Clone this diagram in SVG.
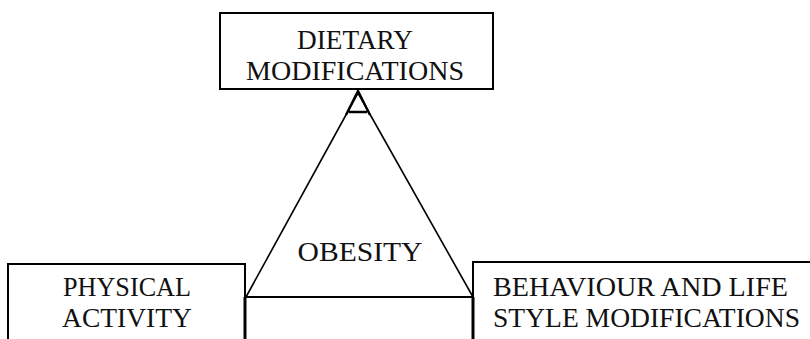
<svg xmlns="http://www.w3.org/2000/svg" width="810" height="339" viewBox="0 0 810 339">
<style>
.t{font-family:"Liberation Serif","Times New Roman",serif;font-size:28px;fill:#111;}
.b{fill:none;stroke:#000;stroke-width:2;}
.c{fill:none;stroke:#000;stroke-width:1.6;}
.k{fill:none;stroke:#000;stroke-width:3;}
</style>
<rect width="810" height="339" fill="#fff"/>
<g id="dietary">
<rect class="b" x="220" y="13" width="273" height="76"/>
<text class="t" x="355" y="49" text-anchor="middle" textLength="116" lengthAdjust="spacingAndGlyphs">DIETARY</text>
<text class="t" x="355" y="80" text-anchor="middle" textLength="218" lengthAdjust="spacingAndGlyphs">MODIFICATIONS</text>
</g>
<g id="physical">
<path class="b" d="M8,339 V264 H245 V297"/>
<path class="k" d="M245,297 V339"/>
<text class="t" x="127" y="296" text-anchor="middle" textLength="128" lengthAdjust="spacingAndGlyphs">PHYSICAL</text>
<text class="t" x="127" y="327" text-anchor="middle" textLength="130" lengthAdjust="spacingAndGlyphs">ACTIVITY</text>
</g>
<g id="behaviour">
<path class="b" d="M810,262 H473 V297"/>
<path class="k" d="M473,297 V339"/>
<text class="t" x="493" y="296" textLength="295" lengthAdjust="spacingAndGlyphs">BEHAVIOUR AND LIFE</text>
<text class="t" x="493" y="327" textLength="307" lengthAdjust="spacingAndGlyphs">STYLE MODIFICATIONS</text>
</g>
<g id="obesity">
<path class="c" d="M246,297 L358,93 L473,297"/>
<path class="b" d="M245,297 H473"/>
<text class="t" x="360" y="261" text-anchor="middle" textLength="125" lengthAdjust="spacingAndGlyphs" style="font-size:27px">OBESITY</text>
</g>
<g id="connectors">
<path fill="none" stroke="#000" stroke-width="2.4" d="M346,115 L358,91 L370,115 M349,112 H367"/>
</g>
</svg>
